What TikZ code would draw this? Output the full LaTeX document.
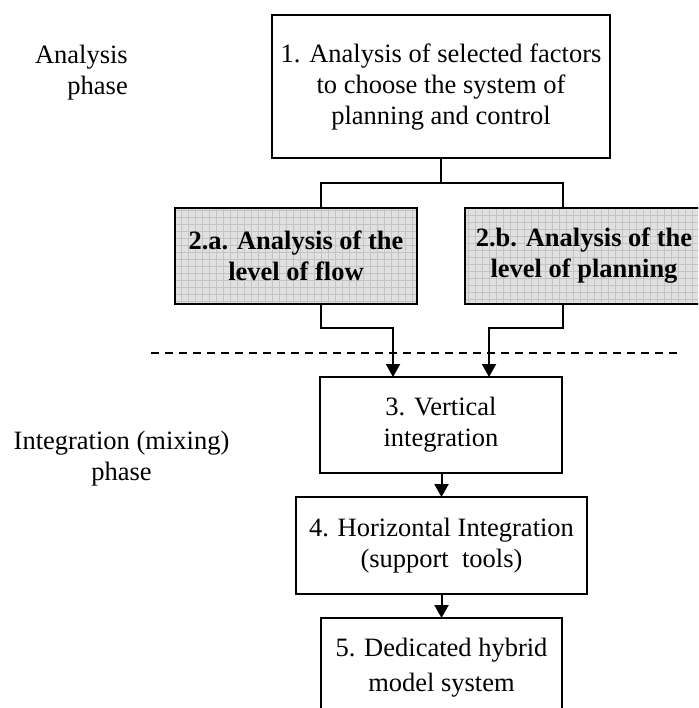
\documentclass[tikz,border=0pt]{standalone}
\usepackage{fontspec}
\setmainfont{Liberation Serif}
\usetikzlibrary{arrows.meta}
\definecolor{boxgray}{RGB}{224,224,224}
\definecolor{gridgray}{RGB}{196,196,196}
\tikzset{
  every node/.style={font=\fontsize{26.5}{31}\selectfont},
  box/.style={draw, line width=2pt, rectangle, inner sep=0pt, outer sep=0pt, align=center},
  shaded/.style={box, fill=boxgray, font=\fontsize{26.5}{31}\selectfont\bfseries,
    path picture={\draw[gridgray, line width=0.6pt] (path picture bounding box.south west) grid[step=7pt] (path picture bounding box.north east);}},
  conn/.style={line width=2pt},
  arr/.style={line width=2pt, -{Triangle[width=14pt,length=13pt]}},
  phaseline/.style={line width=2pt, dash pattern=on 8pt off 6pt},
  lbl/.style={inner sep=0pt}
}
\begin{document}
\begin{tikzpicture}[x=1pt,y=-1pt]
\useasboundingbox (0,0) rectangle (698,708);
\clip (0,0) rectangle (698,708);
\fill[white] (0,0) rectangle (698,708);

% left labels
\node[lbl, anchor=east, align=right] (lanal) at (128,73) {Analysis\\phase};
\node[lbl, align=center] (linteg) at (121.5,459) {Integration (mixing)\\phase};

% boxes
\node[box, minimum width=338pt, minimum height=143pt] (b1) at (441,87)
  {1. Analysis of selected factors\\to choose the system of\\planning and control};
\node[shaded, minimum width=242pt, minimum height=96pt] (b2a) at (296,256)
  {2.a. Analysis of the\\level of flow};
\node[shaded, minimum width=238pt, minimum height=96pt] (b2b) at (584,256)
  {2.b. Analysis of the\\level of planning};
\node[box, minimum width=242pt, minimum height=96pt] (b3) at (441,425)
  {3. Vertical\\integration};
\node[box, minimum width=291pt, minimum height=97pt] (b4) at (441.5,545.5)
  {4. Horizontal Integration\\(support~~tools)};
\node[box, minimum width=241pt, minimum height=100pt, font=\fontsize{26.5}{35}\selectfont] (b5) at (441.5,668)
  {5. Dedicated hybrid\\model system};

% junctions
\coordinate (c1) at (321,183);
\coordinate (c2) at (562.5,183);
\coordinate (m1) at (393,328);
\coordinate (m2) at (489,328);
\coordinate (d1) at (151,353);
\coordinate (d2) at (677,353);

% connectors from box 1 to boxes 2
\draw[conn] (b1.south) -- (b1.south |- c1);
\draw[conn] (c1 |- b2a.north) -- (c1) -- (c2) -- (c2 |- b2b.north);

% connectors from boxes 2 to box 3
\draw[arr] (c1 |- b2a.south) |- (m1) -- (m1 |- b3.north);
\draw[arr] (c2 |- b2b.south) |- (m2) -- (m2 |- b3.north);

% phase separator
\draw[phaseline] (d1) -- (d2);

% vertical chain
\draw[arr] (b3.south -| b4.north) -- (b4.north);
\draw[arr] (b4.south) -- (b5.north -| b4.south);
\end{tikzpicture}
\end{document}
